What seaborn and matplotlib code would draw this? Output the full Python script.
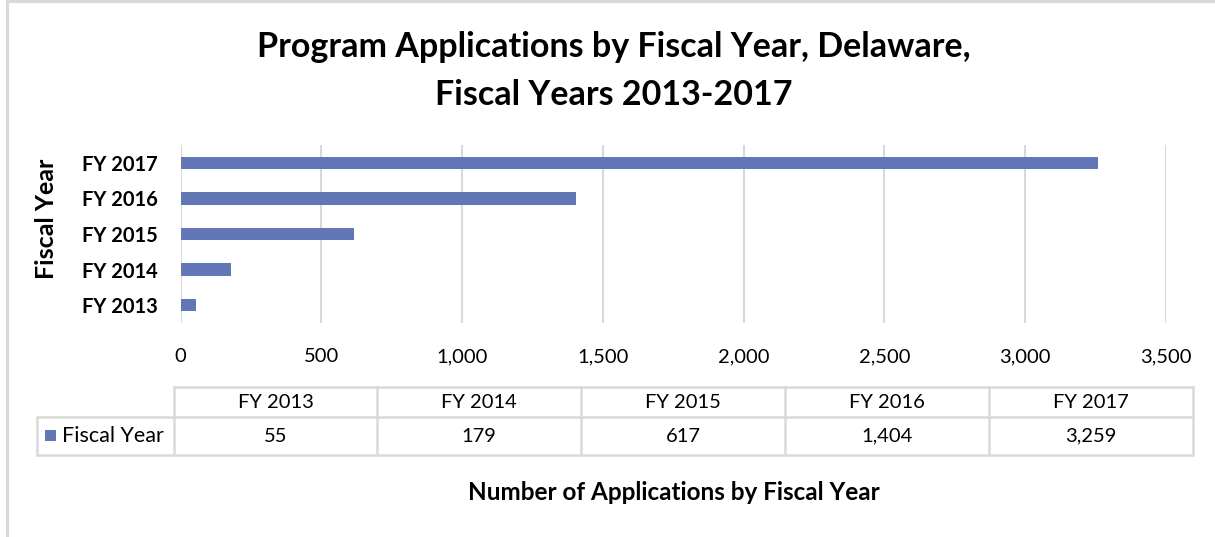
import matplotlib
matplotlib.use("Agg")
import matplotlib.pyplot as plt
from matplotlib.patches import Rectangle
from matplotlib.ticker import FuncFormatter, MultipleLocator
import pandas as pd
import seaborn as sns

# Data
fiscal_years = ["FY 2013", "FY 2014", "FY 2015", "FY 2016", "FY 2017"]
applications = [55, 179, 617, 1404, 3259]
series_name = "Fiscal Year"

title_lines = ["Program Applications by Fiscal Year, Delaware,",
               "Fiscal Years 2013-2017"]
x_label_text = "Number of Applications by Fiscal Year"
y_label_text = "Fiscal Year"

BAR_COLOR = "#6177B6"
GRID_COLOR = "#D9D9D9"
W, H = 1215, 537

sns.set_theme(style="white")
plt.rcParams["font.family"] = ["Lato", "DejaVu Sans"]

df = pd.DataFrame({"year": fiscal_years, "count": applications})

fig = plt.figure(figsize=(W / 100, H / 100), dpi=100)
fig.patch.set_facecolor("white")


def fx(px):
    return px / W


def fy(py):
    return 1 - py / H


# Plot area
left, right, top, bottom = 180.5, 1166, 145, 323
ax = fig.add_axes([fx(left), fy(bottom), fx(right - left), (bottom - top) / H])
sns.barplot(data=df, x="count", y="year", order=fiscal_years[::-1],
            orient="h", color=BAR_COLOR, width=0.35, saturation=1,
            edgecolor="none", ax=ax)
ax.set_xlim(0, 3500)
ax.set_ylim(4.5, -0.5)
ax.xaxis.set_major_locator(MultipleLocator(500))
ax.xaxis.set_major_formatter(FuncFormatter(lambda v, _: f"{int(v):,}"))
ax.grid(axis="x", color=GRID_COLOR, linewidth=1.5)
ax.grid(axis="y", visible=False)
ax.set_axisbelow(True)
for s in ax.spines.values():
    s.set_visible(False)
ax.set_xlabel("")
ax.set_ylabel("")
ax.tick_params(axis="x", length=0, pad=18, labelsize=14.5, labelcolor="#000000")
ax.tick_params(axis="y", length=0, pad=16.5, labelsize=14.5, labelcolor="#000000")
for lbl in ax.get_yticklabels():
    lbl.set_fontweight("bold")

# Titles and axis labels
for line, ypx in zip(title_lines, [47, 95]):
    fig.text(fx(613.5), fy(ypx), line, ha="center", va="center",
             fontsize=24.5, fontweight="bold", color="#000000")
fig.text(fx(46), fy(218.5), y_label_text, ha="center", va="center",
         rotation=90, fontsize=18, fontweight="bold", color="#000000")
fig.text(fx(674), fy(492), x_label_text, ha="center", va="center",
         fontsize=17.5, fontweight="bold", color="#000000")

# Data table beneath the chart
ov = fig.add_axes([0, 0, 1, 1], facecolor="none")
ov.set_xlim(0, W)
ov.set_ylim(H, 0)
ov.axis("off")

col_edges = [174, 377, 581, 785, 989, 1193]
row_top, row_mid, row_bot = 387, 417, 455
label_left = 37
lw = 1.8

ov.plot([col_edges[0], col_edges[-1]], [row_top, row_top], color=GRID_COLOR, lw=lw)
ov.plot([label_left, col_edges[-1]], [row_mid, row_mid], color=GRID_COLOR, lw=lw)
ov.plot([label_left, col_edges[-1]], [row_bot, row_bot], color=GRID_COLOR, lw=lw)
ov.plot([label_left, label_left], [row_mid, row_bot], color=GRID_COLOR, lw=lw)
for xe in col_edges:
    ov.plot([xe, xe], [row_top, row_bot], color=GRID_COLOR, lw=lw)

for i, (yr, val) in enumerate(zip(fiscal_years, applications)):
    cx = (col_edges[i] + col_edges[i + 1]) / 2
    ov.text(cx, (row_top + row_mid) / 2 + 1, yr, ha="center", va="center",
            fontsize=14.5, color="#000000")
    ov.text(cx, (row_mid + row_bot) / 2, f"{val:,}", ha="center", va="center",
            fontsize=14.5, color="#000000")

ov.add_patch(Rectangle((45, 430), 11, 11, color=BAR_COLOR, lw=0))
ov.text(62, (row_mid + row_bot) / 2, series_name, ha="left", va="center",
        fontsize=15.5, color="#000000")

# Chart frame (left and top edges)
ov.plot([7, 7], [1, H], color=GRID_COLOR, lw=2.2)
ov.plot([7, W], [1, 1], color=GRID_COLOR, lw=2.2)

fig.savefig("out.png", dpi=100, facecolor="white")
